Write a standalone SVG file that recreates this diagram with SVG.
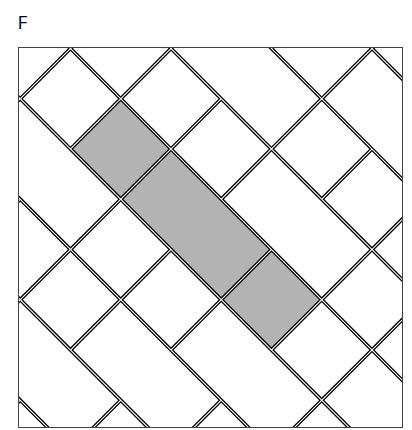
<svg xmlns="http://www.w3.org/2000/svg" width="412" height="430" viewBox="0 0 412 430">
  <style>
    .t { fill: #ffffff; stroke: #000000; stroke-width: 1.3; }
    .g { fill: #b3b3b3; stroke: #000000; stroke-width: 1.3; }
    .frame { fill: none; stroke: #444444; stroke-width: 1; }
    .label { font-family: "Open Sans", "Noto Sans", "DejaVu Sans", sans-serif; font-size: 19px; fill: #000000; }
  </style>
  <defs>
    <clipPath id="clip">
      <rect x="18.5" y="47.5" width="384" height="380"/>
    </clipPath>
  </defs>
  <rect x="0" y="0" width="412" height="430" fill="#ffffff"/>
  <text class="label" x="17.5" y="29">F</text>
  <g id="tiling" clip-path="url(#clip)">
    <g transform="translate(70.5 48.5) rotate(45)">
      <!-- column i=-1 -->
      <rect class="t" x="-69.86" y="1.2" width="68.66" height="68.66"/>
      <rect class="t" x="1.2" y="1.2" width="68.66" height="68.66"/>
      <rect class="g" x="72.26" y="1.2" width="68.66" height="68.66"/>
      <rect class="g" x="143.32" y="1.2" width="139.72" height="68.66"/>
      <rect class="g" x="285.44" y="1.2" width="68.66" height="68.66"/>
      <rect class="t" x="356.5" y="1.2" width="68.66" height="68.66"/>
      <rect class="t" x="427.56" y="1.2" width="139.72" height="68.66"/>
      <!-- column i=0 -->
      <rect class="t" x="-69.86" y="-69.86" width="68.66" height="68.66"/>
      <rect class="t" x="1.2" y="-69.86" width="68.66" height="68.66"/>
      <rect class="t" x="72.26" y="-69.86" width="68.66" height="68.66"/>
      <rect class="t" x="143.32" y="-69.86" width="68.66" height="68.66"/>
      <rect class="t" x="214.38" y="-69.86" width="139.72" height="68.66"/>
      <rect class="t" x="356.5" y="-69.86" width="68.66" height="68.66"/>
      <rect class="t" x="427.56" y="-69.86" width="68.66" height="68.66"/>
      <!-- column i=1 -->
      <rect class="t" x="1.2" y="-140.92" width="68.66" height="68.66"/>
      <rect class="t" x="72.26" y="-140.92" width="139.72" height="68.66"/>
      <rect class="t" x="214.38" y="-140.92" width="68.66" height="68.66"/>
      <rect class="t" x="285.44" y="-140.92" width="68.66" height="68.66"/>
      <rect class="t" x="356.5" y="-140.92" width="68.66" height="68.66"/>
      <!-- column i=2 -->
      <rect class="t" x="72.26" y="-211.98" width="68.66" height="68.66"/>
      <rect class="t" x="143.32" y="-211.98" width="68.66" height="68.66"/>
      <rect class="t" x="214.38" y="-211.98" width="139.72" height="68.66"/>
      <!-- column i=3 -->
      <rect class="t" x="143.32" y="-283.04" width="68.66" height="68.66"/>
      <rect class="t" x="214.38" y="-283.04" width="68.66" height="68.66"/>
      <!-- column i=-2 -->
      <rect class="t" x="-69.86" y="72.26" width="68.66" height="68.66"/>
      <rect class="t" x="1.2" y="72.26" width="139.72" height="68.66"/>
      <rect class="t" x="143.32" y="72.26" width="68.66" height="68.66"/>
      <rect class="t" x="214.38" y="72.26" width="68.66" height="68.66"/>
      <rect class="t" x="285.44" y="72.26" width="139.72" height="68.66"/>
      <rect class="t" x="427.56" y="72.26" width="68.66" height="68.66"/>
      <!-- column i=-3 -->
      <rect class="t" x="1.2" y="143.32" width="68.66" height="68.66"/>
      <rect class="t" x="72.26" y="143.32" width="68.66" height="68.66"/>
      <rect class="t" x="143.32" y="143.32" width="68.66" height="68.66"/>
      <rect class="t" x="214.38" y="143.32" width="139.72" height="68.66"/>
      <rect class="t" x="356.5" y="143.32" width="68.66" height="68.66"/>
      <!-- column i=-4 -->
      <rect class="t" x="72.26" y="214.38" width="68.66" height="68.66"/>
      <rect class="t" x="143.32" y="214.38" width="139.72" height="68.66"/>
      <rect class="t" x="285.44" y="214.38" width="68.66" height="68.66"/>
      <!-- column i=-5 -->
      <rect class="t" x="143.32" y="285.44" width="68.66" height="68.66"/>
      <rect class="t" x="214.38" y="285.44" width="68.66" height="68.66"/>
    </g>
  </g>
  <rect class="frame" x="18.5" y="47.5" width="384" height="380"/>
</svg>
